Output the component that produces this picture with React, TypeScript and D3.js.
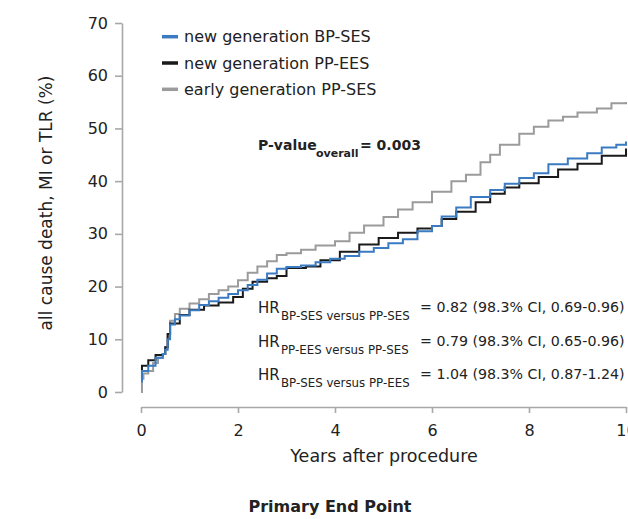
import React, { useEffect, useRef } from 'react';
import * as d3 from 'd3';

// axis ticks
const xTicks = [0, 2, 4, 6, 8, 10];
const yTicks = [0, 10, 20, 30, 40, 50, 60, 70];

const seriesNames = ['new generation BP-SES', 'new generation PP-EES', 'early generation PP-SES'];
const seriesColors = ['#3a7bc1', '#1a1a1a', '#9b9b9b'];

// cumulative incidence (%), [years, %]
const bpSes: [number, number][] = [
  [0, 2], [0.02, 4], [0.15, 5], [0.3, 6.5], [0.45, 7.2], [0.5, 8], [0.55, 10], [0.6, 12.8],
  [0.7, 13.8], [0.8, 14.5], [1.0, 15.5], [1.2, 16.5], [1.4, 17.2], [1.6, 17.9], [1.8, 18.6],
  [2.0, 19.3], [2.2, 20.3], [2.4, 21.3], [2.6, 22.5], [2.8, 23.4], [3.0, 23.7], [3.3, 24],
  [3.6, 24.6], [3.9, 25.3], [4.2, 25.8], [4.5, 26.6], [4.8, 27.3], [5.1, 28.2], [5.4, 29],
  [5.7, 30.5], [6.0, 31.5], [6.2, 33.3], [6.5, 35], [6.8, 37], [7.2, 38.3], [7.5, 39.5],
  [7.8, 40.6], [8.1, 41.5], [8.4, 43.2], [8.8, 44.3], [9.2, 45.3], [9.5, 46.4], [9.8, 46.9],
  [10, 47.5],
];

const ppEes: [number, number][] = [
  [0, 2.5], [0.02, 5], [0.15, 6], [0.3, 7], [0.45, 7.2], [0.5, 8.5], [0.55, 11], [0.6, 13],
  [0.8, 14.6], [1.0, 15.6], [1.3, 16.4], [1.6, 17], [1.9, 18], [2.1, 19.6], [2.3, 20.9],
  [2.6, 21.6], [2.8, 22], [3.0, 23.5], [3.4, 23.8], [3.7, 25], [4.1, 26.6], [4.5, 28],
  [4.9, 29.2], [5.3, 30.2], [5.7, 31], [6.0, 31.5], [6.2, 32.8], [6.5, 34.2], [6.9, 36],
  [7.2, 37.6], [7.5, 38.8], [7.8, 39.6], [8.2, 40.8], [8.6, 42.2], [9.0, 43.3], [9.5, 44.8],
  [10, 46.2],
];

const earlySes: [number, number][] = [
  [0, 0], [0.02, 2.5], [0.05, 3.5], [0.15, 4], [0.25, 5.5], [0.35, 6.5], [0.45, 7.2], [0.5, 8.5],
  [0.55, 11], [0.6, 13.5], [0.7, 14.8], [0.8, 15.8], [1.0, 16.8], [1.2, 17.6], [1.4, 18.6],
  [1.6, 19.3], [1.8, 20], [2.0, 21.2], [2.2, 22.6], [2.4, 23.8], [2.6, 24.8], [2.8, 26],
  [3.0, 26.3], [3.3, 27], [3.6, 27.8], [4.0, 28.6], [4.3, 30.2], [4.6, 31.6], [5.0, 33.2],
  [5.3, 34.6], [5.6, 36], [6.0, 38], [6.4, 40], [6.7, 41.2], [7.0, 43.6], [7.2, 45], [7.4, 46.9],
  [7.8, 49], [8.1, 50.3], [8.4, 51.5], [8.7, 52.2], [9.0, 53], [9.4, 53.8], [9.7, 54.8], [10, 55],
];

const hrLabels = ['BP-SES versus PP-SES', 'PP-EES versus PP-SES', 'BP-SES versus PP-EES'];
const hrValues = ['= 0.82 (98.3% CI, 0.69-0.96)', '= 0.79 (98.3% CI, 0.65-0.96)', '= 1.04 (98.3% CI, 0.87-1.24)'];

const FONT = '"DejaVu Sans", sans-serif';
const TEXT = '#222';
const AXIS = '#a8a8a8';

export default function App() {
  const svgRef = useRef<SVGSVGElement>(null);
  const width = 628;
  const height = 519;

  useEffect(() => {
    const svg = d3.select(svgRef.current);
    svg.selectAll('*').remove();

    const x = d3.scaleLinear().domain([0, 10]).range([141, 626]);
    const y = d3.scaleLinear().domain([0, 70]).range([392, 23]);

    // y axis, offset to the left of the plot
    const yAxis = svg.append('g')
      .attr('transform', 'translate(122,0)')
      .call(d3.axisLeft(y).tickValues(yTicks).tickSize(7).tickSizeOuter(0).tickPadding(7));
    // x axis, offset below the plot
    const xAxis = svg.append('g')
      .attr('transform', 'translate(0,407)')
      .call(d3.axisBottom(x).tickValues(xTicks).tickSize(6).tickSizeOuter(0).tickPadding(12));

    [yAxis, xAxis].forEach((ax) => {
      ax.select('.domain').attr('stroke', AXIS).attr('stroke-width', 1.6);
      ax.selectAll('.tick line').attr('stroke', AXIS).attr('stroke-width', 1.6);
      ax.selectAll('.tick text')
        .attr('fill', TEXT)
        .attr('font-family', FONT)
        .attr('font-size', '16px');
    });

    // curves
    const line = d3.line<[number, number]>()
      .x((d) => x(d[0]))
      .y((d) => y(d[1]))
      .curve(d3.curveStepAfter);

    const curves = [earlySes, ppEes, bpSes];
    const colors = [seriesColors[2], seriesColors[1], seriesColors[0]];
    curves.forEach((c, i) => {
      svg.append('path')
        .datum(c)
        .attr('d', line)
        .attr('fill', 'none')
        .attr('stroke', colors[i])
        .attr('stroke-width', 2);
    });

    // legend
    const legend = svg.append('g');
    seriesNames.forEach((name, i) => {
      const ly = 36.7 + i * 26.3;
      legend.append('line')
        .attr('x1', 162).attr('x2', 178)
        .attr('y1', ly).attr('y2', ly)
        .attr('stroke', seriesColors[i])
        .attr('stroke-width', 3.5);
      legend.append('text')
        .attr('x', 184)
        .attr('y', ly + 5.6)
        .attr('font-family', FONT)
        .attr('font-size', '16px')
        .attr('fill', TEXT)
        .text(name);
    });

    // p-value
    const pv = svg.append('g').attr('font-family', FONT).attr('fill', TEXT);
    pv.append('text').attr('x', 258).attr('y', 150)
      .attr('font-size', '14px').attr('font-weight', 'bold').text('P-value');
    pv.append('text').attr('x', 316).attr('y', 157)
      .attr('font-size', '11px').attr('font-weight', 'bold').text('overall');
    pv.append('text').attr('x', 360).attr('y', 150)
      .attr('font-size', '14px').attr('font-weight', 'bold').text('= 0.003');

    // hazard ratios
    const hr = svg.append('g').attr('font-family', FONT).attr('fill', TEXT);
    hrLabels.forEach((lab, i) => {
      const by = 313 + i * 33.5;
      hr.append('text').attr('x', 258).attr('y', by).attr('font-size', '15px').text('HR');
      hr.append('text').attr('x', 281).attr('y', by + 7).attr('font-size', '11.8px').text(lab);
      hr.append('text').attr('x', 420).attr('y', by - 1).attr('font-size', '14.2px').text(hrValues[i]);
    });

    // axis titles
    svg.append('text')
      .attr('x', 384).attr('y', 462)
      .attr('text-anchor', 'middle')
      .attr('font-family', FONT).attr('font-size', '17.5px').attr('fill', TEXT)
      .text('Years after procedure');
    svg.append('text')
      .attr('transform', 'translate(52,203) rotate(-90)')
      .attr('text-anchor', 'middle')
      .attr('font-family', FONT).attr('font-size', '17px').attr('fill', TEXT)
      .text('all cause death, MI or TLR (%)');

    // caption
    svg.append('text')
      .attr('x', 330).attr('y', 512)
      .attr('text-anchor', 'middle')
      .attr('font-family', FONT).attr('font-size', '16px').attr('font-weight', 'bold').attr('fill', TEXT)
      .text('Primary End Point');
  }, []);

  return (
    <div style={{ position: 'absolute', left: 0, top: 0 }}>
      <svg ref={svgRef} width={width} height={height} style={{ display: 'block', background: '#fff' }} />
    </div>
  );
}
